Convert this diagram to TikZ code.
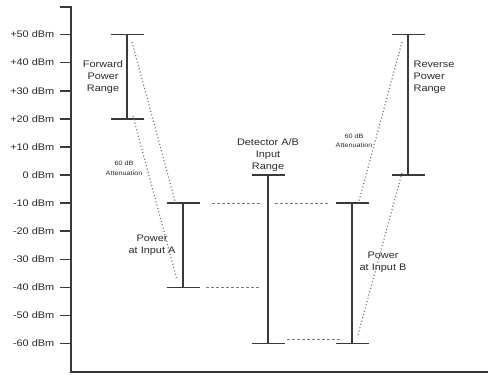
\documentclass[tikz,border=0pt]{standalone}
\usepackage{fontspec}
\setmainfont{Liberation Sans}[FakeStretch=1.15]
\definecolor{linegray}{HTML}{3A3A3A}
\definecolor{textgray}{HTML}{2A2A2A}
\definecolor{dotgray}{HTML}{7A7A7A}
\begin{document}
\begin{tikzpicture}[x=1pt,y=-1pt,
  axisline/.style={line width=1.6pt, draw=linegray},
  rangebar/.style={line width=1.6pt, draw=linegray},
  dotline/.style={line width=1.2pt, draw=dotgray, dash pattern=on 1.1pt off 2.3pt},
  dashline/.style={line width=0.9pt, draw=dotgray, dash pattern=on 3pt off 2pt},
  lbl/.style={font=\fontsize{9.5}{12}\selectfont, text=textgray, align=center, inner sep=0pt},
  tinylbl/.style={font=\fontsize{6.3}{9.5}\selectfont, text=textgray, align=center, inner sep=0pt},
  ticklbl/.style={font=\fontsize{9.5}{12}\selectfont, text=textgray, anchor=east, inner sep=0pt}
]
\useasboundingbox (0,0) rectangle (488,375);

% axes
\coordinate (axtop) at (71,7);
\coordinate (axtopl) at (60,7);
\coordinate (axorig) at (71,372);
\coordinate (axright) at (488,372);
\draw[axisline] (axtopl) -- (axtop) -- (axorig) -- (axright);

% ticks and labels
\foreach \d/\t in {50/+50 dBm,40/+40 dBm,30/+30 dBm,20/+20 dBm,10/+10 dBm,0/0 dBm,-10/-10 dBm,-20/-20 dBm,-30/-30 dBm,-40/-40 dBm,-50/-50 dBm,-60/-60 dBm}{
  \pgfmathsetmacro{\yy}{175-\d*2.81}
  \coordinate (tk\d) at (71,\yy);
  \coordinate (tl\d) at (60,\yy);
  \draw[axisline] (tl\d) -- (tk\d);
  \node[ticklbl] (lab\d) at (54.5,\yy) {\t};
}

% range bars: name/x/top/bottom
\foreach \n/\x/\ya/\yb in {fwd/127/34.5/118.8, ina/183/203.1/287.4, det/268/175/343.6, inb/352/203.1/343.6, rev/408/34.5/175}{
  \coordinate (\n t) at (\x,\ya);
  \coordinate (\n b) at (\x,\yb);
  \coordinate (\n tl) at (\x-16.5,\ya);
  \coordinate (\n tr) at (\x+16.5,\ya);
  \coordinate (\n bl) at (\x-16.5,\yb);
  \coordinate (\n br) at (\x+16.5,\yb);
  \draw[rangebar] (\n t) -- (\n b);
  \draw[rangebar] (\n tl) -- (\n tr);
  \draw[rangebar] (\n bl) -- (\n br);
}

% dotted attenuation lines
\coordinate (l1a) at (132,42);  \coordinate (l1b) at (175,201);
\coordinate (l2a) at (133,116); \coordinate (l2b) at (177,280);
\coordinate (r1a) at (402,42);  \coordinate (r1b) at (359,201);
\coordinate (r2a) at (402,173); \coordinate (r2b) at (358,335);
\draw[dotline] (l1a) -- (l1b);
\draw[dotline] (l2a) -- (l2b);
\draw[dotline] (r1a) -- (r1b);
\draw[dotline] (r2a) -- (r2b);

% dashed level lines
\coordinate (d1a) at (212,203.1); \coordinate (d1b) at (262,203.1);
\coordinate (d1c) at (275,203.1); \coordinate (d1d) at (330,203.1);
\coordinate (d2a) at (206,287.4); \coordinate (d2b) at (260,287.4);
\coordinate (d3a) at (287,339);   \coordinate (d3b) at (342,339);
\draw[dashline] (d1a) -- (d1b);
\draw[dashline] (d1c) -- (d1d);
\draw[dashline] (d2a) -- (d2b);
\draw[dashline] (d3a) -- (d3b);

% labels
\node[lbl] (fwdlab) at (103,77) {Forward\\Power\\Range};
\node[lbl] (inalab) at (152,245) {Power\\at Input A};
\node[lbl] (detlab) at (268,155) {Detector A/B\\Input\\Range};
\node[lbl] (inblab) at (383,262) {Power\\at Input B};
\node[lbl, align=left, anchor=west] (revlab) at (413.5,77) {Reverse\\Power\\Range};
\node[tinylbl] (attl) at (124,168) {60 dB\\Attenuation};
\node[tinylbl] (attr) at (354,140.5) {60 dB\\Attenuation};
\end{tikzpicture}
\end{document}
